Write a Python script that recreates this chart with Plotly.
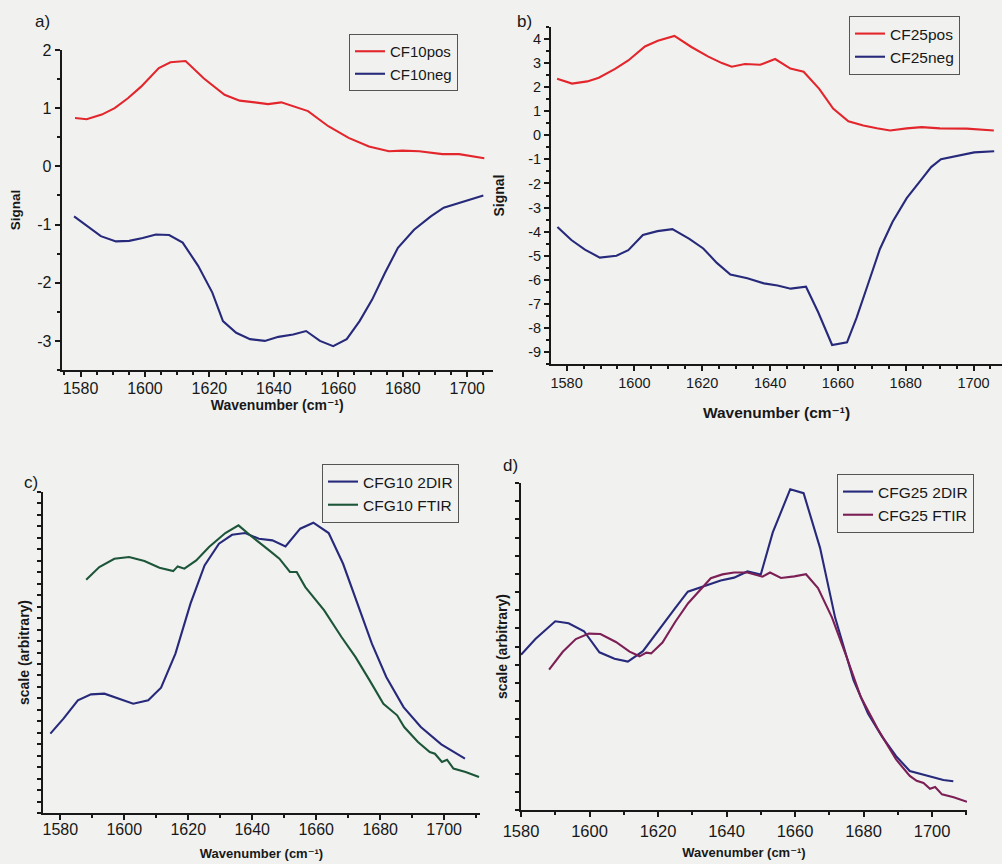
import plotly.graph_objects as go

# ---------------- data ----------------
# a) CF10 difference signals
cf10_pos_wn = [1578.3, 1581.9, 1586.6, 1590.6, 1594.7, 1598.8, 1604.3, 1607.9, 1612.6, 1618.3,
               1624.7, 1629.4, 1634.1, 1638.2, 1642.3, 1646.0, 1650.6, 1656.9, 1663.2, 1669.5,
               1675.7, 1679.9, 1685.1, 1692.3, 1697.5, 1705.3]
cf10_pos = [0.83, 0.81, 0.89, 1.00, 1.17, 1.37, 1.69, 1.79, 1.81, 1.51,
            1.23, 1.13, 1.10, 1.07, 1.10, 1.03, 0.95, 0.69, 0.49, 0.34,
            0.26, 0.27, 0.26, 0.21, 0.21, 0.14]
cf10_neg_wn = [1578.0, 1582.1, 1586.3, 1591.0, 1595.1, 1599.3, 1603.4, 1607.5, 1611.7, 1616.5,
               1620.9, 1624.2, 1628.3, 1632.6, 1637.2, 1641.4, 1646.0, 1650.0, 1654.3, 1658.4,
               1662.6, 1666.6, 1670.5, 1674.5, 1678.5, 1683.5, 1688.7, 1692.7, 1698.8, 1705.0]
cf10_neg = [-0.86, -1.03, -1.20, -1.29, -1.28, -1.23, -1.17, -1.18, -1.31, -1.71,
            -2.17, -2.66, -2.86, -2.97, -3.00, -2.93, -2.89, -2.83, -3.00, -3.09,
            -2.97, -2.66, -2.29, -1.83, -1.40, -1.09, -0.86, -0.71, -0.60, -0.50]

# b) CF25 difference signals
cf25_pos_wn = [1577.2, 1581.6, 1586.1, 1589.5, 1594.3, 1598.2, 1603.1, 1606.9, 1611.8, 1616.8,
               1621.8, 1625.8, 1628.7, 1632.6, 1637.1, 1641.5, 1646.0, 1649.9, 1654.5, 1658.6,
               1663.1, 1667.5, 1671.5, 1675.4, 1680.3, 1684.7, 1690.1, 1698.0, 1706.0]
cf25_pos = [2.35, 2.15, 2.24, 2.39, 2.76, 3.11, 3.69, 3.93, 4.13, 3.67,
            3.27, 3.00, 2.85, 2.96, 2.93, 3.17, 2.77, 2.64, 1.93, 1.11,
            0.58, 0.41, 0.29, 0.20, 0.29, 0.34, 0.29, 0.28, 0.20]
cf25_neg_wn = [1577.3, 1581.4, 1585.4, 1589.8, 1594.7, 1598.2, 1602.5, 1606.8, 1611.2, 1616.2,
               1620.3, 1624.3, 1628.3, 1633.3, 1638.2, 1642.2, 1646.1, 1650.6, 1654.2, 1658.3,
               1662.7, 1665.5, 1668.7, 1672.4, 1676.1, 1680.3, 1684.6, 1687.5, 1690.4, 1695.3,
               1700.2, 1706.1]
cf25_neg = [-3.81, -4.35, -4.75, -5.08, -5.00, -4.77, -4.14, -3.98, -3.90, -4.30,
            -4.70, -5.30, -5.78, -5.94, -6.15, -6.24, -6.37, -6.29, -7.35, -8.71,
            -8.60, -7.58, -6.26, -4.72, -3.60, -2.61, -1.84, -1.32, -0.99, -0.84,
            -0.71, -0.66]

# c) CFG10 spectra (arbitrary scale)
cfg10_2dir_wn = [1576.9, 1581.0, 1585.5, 1589.6, 1593.8, 1598.5, 1602.8, 1607.5, 1611.5, 1616.0,
                 1620.7, 1625.1, 1629.6, 1633.7, 1637.8, 1642.1, 1646.3, 1650.4, 1655.0, 1659.1,
                 1663.9, 1668.4, 1672.8, 1677.4, 1681.9, 1687.3, 1692.7, 1699.1, 1706.5]
cfg10_2dir = [6.92, 8.23, 9.83, 10.35, 10.41, 9.97, 9.53, 9.83, 10.93, 13.90,
              18.26, 21.60, 23.49, 24.27, 24.42, 23.92, 23.78, 23.26, 24.80, 25.32,
              24.42, 21.74, 18.26, 14.77, 11.86, 9.24, 7.50, 5.99, 4.74]
cfg10_ftir_wn = [1588.1, 1592.2, 1596.9, 1601.5, 1606.3, 1611.0, 1615.3, 1616.7, 1618.8, 1622.5,
                 1626.5, 1631.6, 1635.7, 1640.0, 1645.3, 1648.5, 1651.8, 1653.9, 1656.6, 1662.5,
                 1667.9, 1672.3, 1676.7, 1681.0, 1685.3, 1687.5, 1691.8, 1695.5, 1697.1, 1699.3,
                 1700.9, 1702.9, 1706.7, 1710.9]
cfg10_ftir = [20.35, 21.45, 22.18, 22.33, 21.98, 21.40, 21.10, 21.51, 21.31, 22.03,
              23.20, 24.42, 25.09, 24.07, 22.91, 22.18, 21.02, 21.02, 19.71, 17.67,
              15.35, 13.60, 11.57, 9.53, 8.52, 7.50, 6.19, 5.32, 5.17, 4.45,
              4.65, 3.87, 3.58, 3.14]

# d) CFG25 spectra (arbitrary scale)
cfg25_2dir_wn = [1580.0, 1584.2, 1590.0, 1593.9, 1598.4, 1602.9, 1607.3, 1611.2, 1615.6, 1620.3,
                 1624.9, 1628.7, 1633.6, 1638.3, 1642.2, 1646.1, 1650.0, 1653.5, 1658.6, 1662.5,
                 1667.3, 1671.7, 1677.1, 1681.3, 1685.4, 1689.5, 1693.5, 1698.3, 1703.3, 1706.2]
cfg25_2dir = [8.55, 9.41, 10.39, 10.28, 9.84, 8.68, 8.33, 8.17, 8.74, 9.96,
              11.09, 12.02, 12.33, 12.63, 12.79, 13.13, 12.96, 15.28, 17.66, 17.44,
              14.43, 10.59, 7.13, 5.31, 4.04, 2.96, 2.15, 1.91, 1.65, 1.58]
cfg25_ftir_wn = [1588.2, 1592.2, 1596.0, 1599.8, 1603.2, 1607.7, 1611.7, 1614.6, 1616.6, 1618.0,
                 1621.3, 1625.0, 1628.8, 1632.6, 1635.4, 1638.8, 1642.2, 1646.1, 1650.5, 1652.7,
                 1655.9, 1659.8, 1663.2, 1666.7, 1670.8, 1675.1, 1679.2, 1684.3, 1689.5, 1693.5,
                 1695.5, 1697.5, 1699.4, 1700.9, 1702.9, 1706.3, 1710.2]
cfg25_ftir = [7.73, 8.71, 9.41, 9.71, 9.69, 9.25, 8.72, 8.46, 8.66, 8.62,
              9.22, 10.35, 11.38, 12.19, 12.76, 12.97, 13.07, 13.07, 12.84, 13.07,
              12.77, 12.86, 12.98, 12.22, 10.59, 8.40, 6.22, 4.41, 2.78, 1.88,
              1.61, 1.49, 1.17, 1.27, 0.86, 0.70, 0.45]

# tick labels
wn_ticks = [1580, 1600, 1620, 1640, 1660, 1680, 1700]
signal_ticks_a = [-3, -2, -1, 0, 1, 2]
signal_ticks_b = [-9, -8, -7, -6, -5, -4, -3, -2, -1, 0, 1, 2, 3, 4]

# ---------------- styling ----------------
W, H = 1002, 864
FONT = "Liberation Sans, Arial, DejaVu Sans, sans-serif"
INK = "#181818"
BG = "#f1f2f0"
RED = "#e2262c"
NAVY = "#27297a"
GREEN = "#1d5539"
PLUM = "#7c1f55"
TICK_W = 1.8
WN_TITLE = "Wavenumber (cm\u207b\u00b9)"


def px_x(a, b):
    return [a / W, b / W]


def px_y(top, bottom):
    return [1 - bottom / H, 1 - top / H]


def x_axis(domain, rng, anchor, minor_step, tick_size, title_size, standoff, label_shift):
    return dict(
        domain=domain, range=rng, anchor=anchor, automargin=False,
        tickmode="array", tickvals=wn_ticks, ticktext=[str(v) for v in wn_ticks],
        ticks="outside", ticklen=5, tickwidth=TICK_W, tickcolor=INK,
        ticklabelstandoff=label_shift,
        minor=dict(tickmode="linear", dtick=minor_step, tick0=1580, ticks="outside",
                   ticklen=3, tickwidth=1.6, tickcolor=INK, showgrid=False),
        showline=True, linecolor=INK, linewidth=1.8,
        showgrid=False, zeroline=False,
        tickfont=dict(family=FONT, size=tick_size, color=INK),
        title=dict(text=WN_TITLE,
                   font=dict(family=FONT, size=title_size, color=INK, weight="bold"),
                   standoff=standoff),
    )


def y_axis(domain, rng, anchor, title, tick_values, dtick, minor_step,
           tick_size, title_size, standoff):
    ax = dict(
        domain=domain, range=rng, anchor=anchor, automargin=False,
        ticks="outside", tickwidth=TICK_W, tickcolor=INK,
        showline=True, linecolor=INK, linewidth=1.8,
        showgrid=False, zeroline=False,
        tickfont=dict(family=FONT, size=tick_size, color=INK),
        title=dict(text=title,
                   font=dict(family=FONT, size=title_size, color=INK, weight="bold"),
                   standoff=standoff),
    )
    if tick_values:
        ax.update(tickmode="array", tickvals=tick_values,
                  ticktext=[str(v) for v in tick_values], ticklen=5)
    else:
        ax.update(tickmode="linear", tick0=0, dtick=dtick, ticklen=4,
                  showticklabels=False)
    if minor_step:
        ax["minor"] = dict(tickmode="linear", dtick=minor_step, tick0=0,
                           ticks="outside", ticklen=3, tickwidth=1.6,
                           tickcolor=INK, showgrid=False)
    return ax


def legend_box(x_px, y_px, size):
    return dict(
        x=x_px / W, y=1 - y_px / H, xanchor="left", yanchor="top",
        bgcolor="rgba(0,0,0,0)", bordercolor="#555555", borderwidth=1,
        font=dict(family=FONT, size=size, color=INK),
        tracegroupgap=0, itemwidth=30,
    )


fig = go.Figure()

line_w = 2.1
series = [
    (cf10_pos_wn, cf10_pos, "CF10pos", RED, "x", "y", "legend"),
    (cf10_neg_wn, cf10_neg, "CF10neg", NAVY, "x", "y", "legend"),
    (cf25_pos_wn, cf25_pos, "CF25pos", RED, "x2", "y2", "legend2"),
    (cf25_neg_wn, cf25_neg, "CF25neg", NAVY, "x2", "y2", "legend2"),
    (cfg10_2dir_wn, cfg10_2dir, "CFG10 2DIR", NAVY, "x3", "y3", "legend3"),
    (cfg10_ftir_wn, cfg10_ftir, "CFG10 FTIR", GREEN, "x3", "y3", "legend3"),
    (cfg25_2dir_wn, cfg25_2dir, "CFG25 2DIR", NAVY, "x4", "y4", "legend4"),
    (cfg25_ftir_wn, cfg25_ftir, "CFG25 FTIR", PLUM, "x4", "y4", "legend4"),
]
for xs, ys, name, color, xa, ya, leg in series:
    fig.add_trace(go.Scatter(x=xs, y=ys, mode="lines", name=name,
                             line=dict(color=color, width=line_w),
                             xaxis=xa, yaxis=ya, legend=leg))

panel_labels = [("a)", 42, 22), ("b)", 524, 22), ("c)", 31, 482), ("d)", 510, 465)]

fig.update_layout(
    width=W, height=H,
    margin=dict(l=0, r=0, t=0, b=0, autoexpand=False),
    paper_bgcolor=BG, plot_bgcolor=BG,
    showlegend=True,
    xaxis=x_axis(px_x(61.5, 493), [1574.1, 1708.0], "y", 5, 16, 14, 4, -2),
    yaxis=y_axis(px_y(50, 370), [-3.5, 2.0], "x", "Signal", signal_ticks_a, None, 0.5, 16, 13.5, 13),
    xaxis2=x_axis(px_x(551, 1002), [1575.4, 1708.4], "y2", 5, 14.5, 15.5, 17, 0),
    yaxis2=y_axis(px_y(27, 364), [-9.5, 4.5], "x2", "Signal", signal_ticks_b, None, 0.5, 14.5, 14, 20),
    xaxis3=x_axis(px_x(43, 480), [1574.6, 1711.2], "y3", 10, 16, 13, 12, -4),
    yaxis3=y_axis(px_y(492, 813), [0, 28], "x3", "scale (arbitrary)", None, 1, None, 16, 14, 4),
    xaxis4=x_axis(px_x(521, 967), [1580.0, 1710.2], "y4", 10, 16.5, 13, 9, 0),
    yaxis4=y_axis(px_y(483, 810), [0, 18], "x4", "scale (arbitrary)", None, 1, None, 16, 14, 4),
    legend=legend_box(349, 34, 15),
    legend2=legend_box(849, 16, 15.5),
    legend3=legend_box(322, 464, 15.5),
    legend4=legend_box(837, 474, 15.5),
    annotations=[
        dict(text=t, x=x / W, y=1 - y / H, xref="paper", yref="paper",
             xanchor="center", yanchor="middle", showarrow=False,
             font=dict(family=FONT, size=17, color=INK))
        for t, x, y in panel_labels
    ],
)

fig.write_html("out.html")
